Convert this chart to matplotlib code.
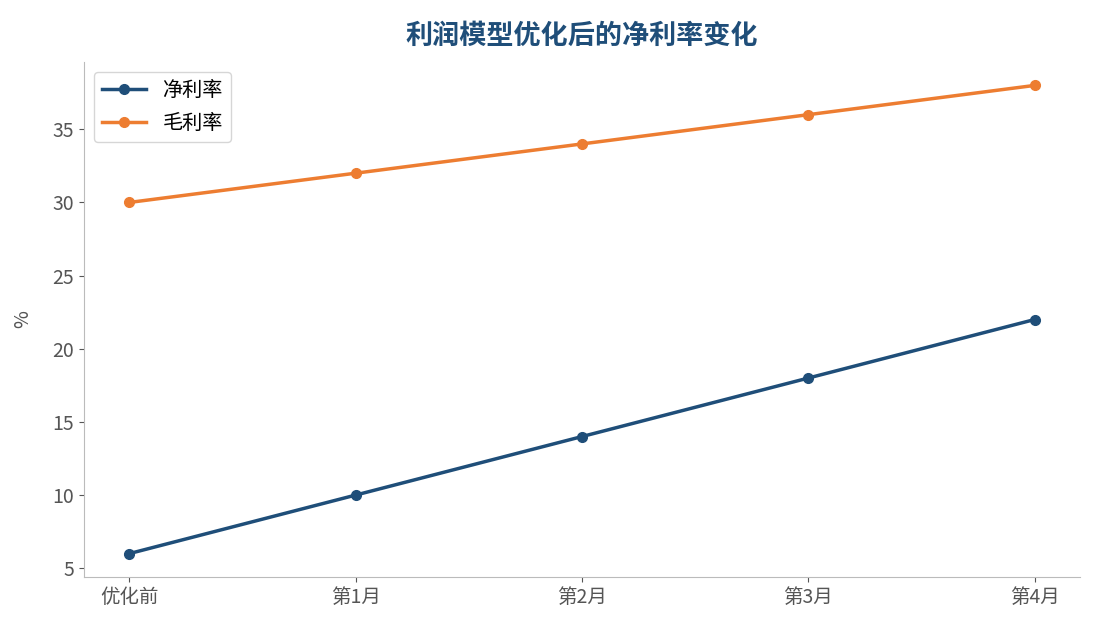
import matplotlib
matplotlib.use("Agg")
import matplotlib.pyplot as plt

plt.rcParams['font.family'] = ['Noto Sans CJK SC', 'DejaVu Sans']

categories = ["优化前", "第1月", "第2月", "第3月", "第4月"]
net_margin = [6, 10, 14, 18, 22]
gross_margin = [30, 32, 34, 36, 38]

fig = plt.figure(figsize=(10.95, 6.3), dpi=100)
ax = fig.add_axes([0.0767, 0.0841, 0.9096, 0.8175])

x = list(range(len(categories)))
ax.plot(x, net_margin, color="#1f4e79", linewidth=2.5, marker="o", markersize=7, label="净利率")
ax.plot(x, gross_margin, color="#ed7d31", linewidth=2.5, marker="o", markersize=7, label="毛利率")

ax.set_xticks(x)
ax.set_xticklabels(categories)
ax.set_yticks([5, 10, 15, 20, 25, 30, 35])
ax.set_ylabel("%", fontsize=14, color="#555555", labelpad=14)
ax.set_title("利润模型优化后的净利率变化", fontsize=19.5, fontweight="bold", color="#1f4e79", pad=13)

for s in ["top", "right"]:
    ax.spines[s].set_visible(False)
for s in ["left", "bottom"]:
    ax.spines[s].set_color("#bbbbbb")
ax.tick_params(colors="#555555", labelsize=14)

leg = ax.legend(loc="upper left", fontsize=14.5, frameon=True, handlelength=2.2, labelspacing=0.6)

fig.savefig("out.png", dpi=100)
